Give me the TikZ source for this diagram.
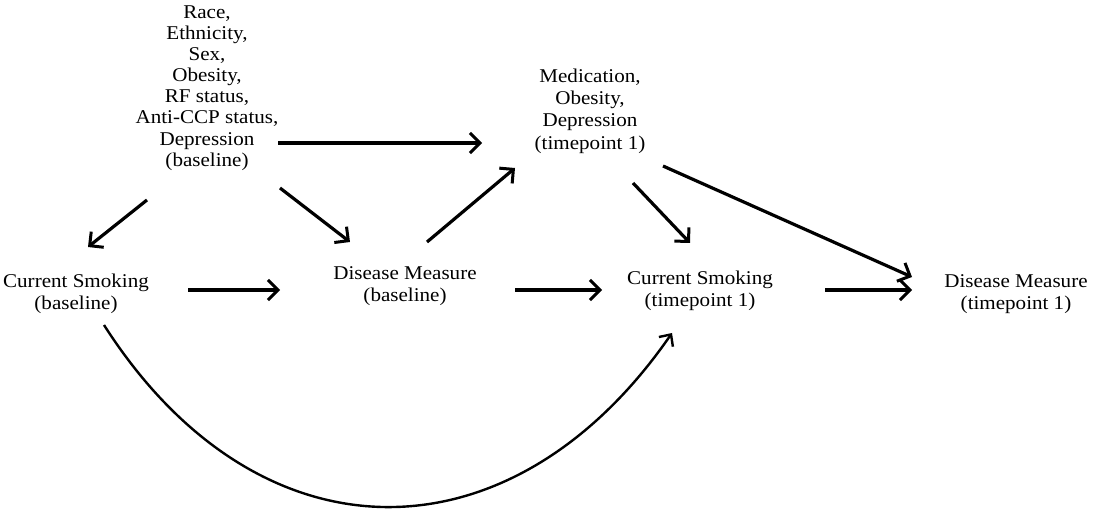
\documentclass[tikz,border=0pt]{standalone}
\usepackage{fontspec}
\setmainfont{Liberation Serif}[FakeStretch=1.08]
\usetikzlibrary{arrows.meta}
\begin{document}
\begin{tikzpicture}[x=1pt,y=-1pt,
  lbl/.style={align=center,inner sep=0pt,font=\fontsize{19.5}{21.5}\selectfont},
  arr/.style={line width=3.2pt,-{Straight Barb[length=10pt,width=20pt,line width=3pt]}},
  carr/.style={line width=2.4pt,-{Straight Barb[length=9pt,width=17pt,line width=2.4pt]}}]
\useasboundingbox (0,0) rectangle (1100,510);
\node[lbl,font=\fontsize{19.5}{21.1}\selectfont] (conf) at (207,88) {Race,\\Ethnicity,\\Sex,\\Obesity,\\RF status,\\Anti-CCP status,\\Depression\\(baseline)};
\node[lbl,font=\fontsize{19.5}{22.3}\selectfont] (med) at (590,111) {Medication,\\Obesity,\\Depression\\(timepoint 1)};
\node[lbl] (csb) at (76,294) {Current Smoking\\(baseline)};
\node[lbl] (dmb) at (405,286) {Disease Measure\\(baseline)};
\node[lbl] (cst) at (700,291) {Current Smoking\\(timepoint 1)};
\node[lbl] (dmt) at (1016,294) {Disease Measure\\(timepoint 1)};
% arrows
\draw[arr] ([shift={(71,55)}]conf.center) -- ([shift={(-108,32)}]med.center);
\draw[arr] ([shift={(-60,112)}]conf.center) -- ([shift={(12,-47)}]csb.center);
\draw[arr] ([shift={(73,100)}]conf.center) -- ([shift={(-55,-44)}]dmb.center);
\draw[arr] ([shift={(22,-44)}]dmb.center) -- ([shift={(-75,57)}]med.center);
\draw[arr] ([shift={(43,72)}]med.center) -- ([shift={(-10,-48)}]cst.center);
\draw[arr] ([shift={(73,55)}]med.center) -- ([shift={(-104,-17)}]dmt.center);
\draw[arr] ([shift={(112,-4)}]csb.center) -- ([shift={(-125,4)}]dmb.center);
\draw[arr] ([shift={(110,4)}]dmb.center) -- ([shift={(-98,-1)}]cst.center);
\draw[arr] ([shift={(125,-1)}]cst.center) -- ([shift={(-104,-4)}]dmt.center);
\coordinate (cv1) at (258,566);
\coordinate (cv2) at (511,566);
\draw[carr] ([shift={(28,31)}]csb.center) .. controls (cv1) and (cv2) .. ([shift={(-28,42)}]cst.center);
\end{tikzpicture}
\end{document}
